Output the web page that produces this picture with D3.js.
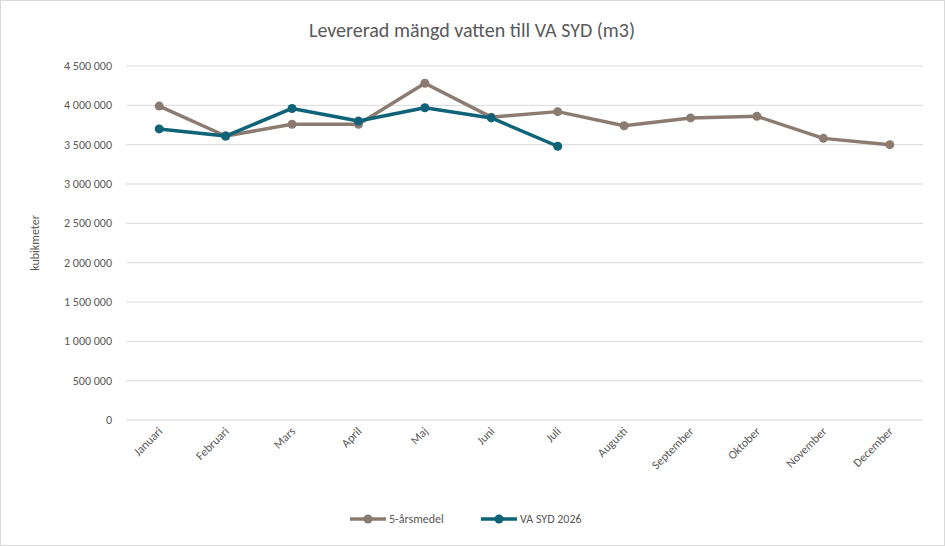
<!DOCTYPE html>
<html lang="sv">
<head>
<meta charset="utf-8">
<script src="https://cdn.jsdelivr.net/npm/d3@7/dist/d3.min.js"></script>
<style>
  body { margin: 0; background: #fff; }
  svg { font-family: Calibri, Carlito, "Liberation Sans", sans-serif; }
</style>
</head>
<body>
<svg id="chart" width="945" height="546"></svg>
<script>
var months = ["Januari","Februari","Mars","April","Maj","Juni","Juli","Augusti","September","Oktober","November","December"];
var medel = [3990000,3610000,3760000,3760000,4280000,3850000,3920000,3740000,3840000,3860000,3580000,3500000];
var vasyd = [3700000,3610000,3960000,3800000,3970000,3840000,3480000];
var yTicks = [0,500000,1000000,1500000,2000000,2500000,3000000,3500000,4000000,4500000];

var svg = d3.select("#chart");
svg.append("rect").attr("x",0.5).attr("y",0.5).attr("width",944).attr("height",545)
    .attr("fill","#fff").attr("stroke","#d9d9d9");

var plotLeft = 126, plotRight = 923, plotTop = 66, plotBottom = 420;
var x = d3.scalePoint().domain(months).range([plotLeft, plotRight]).padding(0.5);
var y = d3.scaleLinear().domain([0, 4500000]).range([plotBottom, plotTop]);
var fmt = function(v){ return d3.format(",")(v).replace(/,/g, "\u00a0"); };

// grid
svg.append("g").selectAll("line").data(yTicks).enter().append("line")
    .attr("x1", plotLeft).attr("x2", plotRight)
    .attr("y1", function(d){ return y(d); }).attr("y2", function(d){ return y(d); })
    .attr("stroke", "#d9d9d9");

svg.append("g").selectAll("text").data(yTicks).enter().append("text")
    .attr("x", plotLeft - 14).attr("y", function(d){ return y(d) + 4; })
    .attr("text-anchor", "end").attr("font-size", 12).attr("fill", "#595959")
    .text(fmt);

svg.append("g").selectAll("text").data(months).enter().append("text")
    .attr("transform", function(d){ return "translate(" + (x(d) + 4) + "," + (plotBottom + 12) + ") rotate(-45)"; })
    .attr("text-anchor", "end").attr("font-size", 12).attr("fill", "#595959")
    .text(function(d){ return d; });

svg.append("text").attr("x", 472).attr("y", 37).attr("text-anchor", "middle")
    .attr("font-size", 20).attr("fill", "#595959").text("Levererad mängd vatten till VA SYD (m3)");

svg.append("text").attr("transform", "translate(39,243) rotate(-90)").attr("text-anchor", "middle")
    .attr("font-size", 12).attr("fill", "#595959").text("kubikmeter");

var series = [
  {name: "5-årsmedel", values: medel, color: "#8c7b70"},
  {name: "VA SYD 2026", values: vasyd, color: "#0f6379"}
];
var line = d3.line().x(function(d, i){ return x(months[i]); }).y(function(d){ return y(d); });

series.forEach(function(s){
  var g = svg.append("g");
  g.append("path").attr("d", line(s.values)).attr("fill", "none")
      .attr("stroke", s.color).attr("stroke-width", 3.5).attr("stroke-linejoin", "round");
  g.selectAll("circle").data(s.values).enter().append("circle")
      .attr("cx", function(d, i){ return x(months[i]); }).attr("cy", function(d){ return y(d); })
      .attr("r", 4.5).attr("fill", s.color);
});

// legend
var lx = [350, 481];
series.forEach(function(s, i){
  var g = svg.append("g").attr("transform", "translate(" + lx[i] + ",519)");
  g.append("line").attr("x1", 0).attr("x2", 36).attr("stroke", s.color).attr("stroke-width", 3.5);
  g.append("circle").attr("cx", 18).attr("r", 4.5).attr("fill", s.color);
  g.append("text").attr("x", 39).attr("y", 4).attr("font-size", 12).attr("fill", "#595959").text(s.name);
});
</script>
</body>
</html>
